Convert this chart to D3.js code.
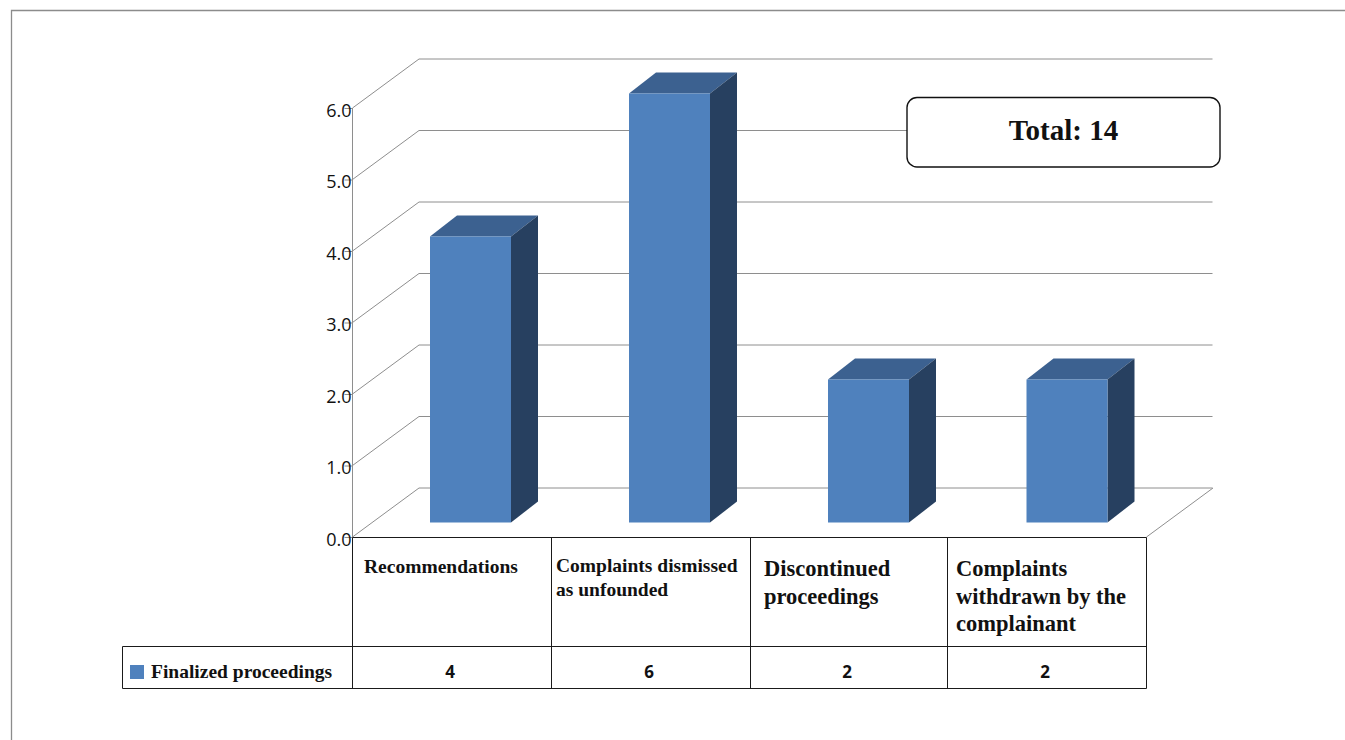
<!DOCTYPE html>
<html>
<head>
<meta charset="utf-8">
<style>
html,body{margin:0;padding:0;background:#fff;overflow:hidden}
svg{display:block}
</style>
<script src="https://cdnjs.cloudflare.com/ajax/libs/d3/7.8.5/d3.min.js"></script>
</head>
<body>
<svg id="chart" width="1345" height="740"></svg>
<script>
// Finalized proceedings by outcome
const categories = [
  ["Recommendations"],
  ["Complaints dismissed", "as unfounded"],
  ["Discontinued", "proceedings"],
  ["Complaints", "withdrawn by the", "complainant"]
];
const seriesName = "Finalized proceedings";
const values = [4, 6, 2, 2];
const yTicks = [0, 1, 2, 3, 4, 5, 6];
const totalLabel = "Total: 14";

const svg = d3.select("#chart");
const serif = "'Liberation Serif', serif";
const sans = "'Open Sans', sans-serif";

// Frame geometry of the oblique plot box
const plot = {left: 352.5, right: 1146.5, floor: 537, top: 108};
const wallDx = 66.5, wallDy = -49;   // shift from the front plane to the back wall
const barDx = 27, barDy = -21;       // visible depth of each column
const tableEdges = [352.5, 551.5, 750.5, 947.5, 1146.5];
const tableRows = [537.5, 646.5, 688.5];

const y = d3.scaleLinear().domain([0, 6]).range([plot.floor, plot.top]);

// Page frame
svg.append("path").attr("d", "M11.5,740V10.5H1345")
  .attr("fill", "none").attr("stroke", "#8c8c8c").attr("stroke-width", 1.3);

// Back wall gridlines and their diagonals on the side wall
const grid = svg.append("g").attr("fill", "none").attr("stroke", "#8e8e8e").attr("stroke-width", 1);
yTicks.forEach(t => {
  const yy = y(t);
  grid.append("path")
    .attr("d", `M${plot.left},${yy}L${plot.left + wallDx},${yy + wallDy}H${plot.right + wallDx - 0.5}`);
});
grid.append("path")
  .attr("d", `M${plot.right},${plot.floor}L${plot.right + wallDx},${plot.floor + wallDy}`);

// Value axis
const axis = svg.append("g").attr("transform", `translate(${plot.left},0)`)
  .call(d3.axisLeft(y).tickValues(yTicks).tickSize(8).tickSizeOuter(0).tickPadding(1));
axis.select(".domain").attr("stroke", "#8e8e8e").attr("d", `M0,${y(6)}V${y(0)}`);
axis.selectAll(".tick line").attr("stroke", "#8e8e8e");
axis.selectAll(".tick text")
  .attr("font-family", sans).attr("font-size", 18).attr("fill", "#111")
  .attr("dy", "0.62em").attr("dx", 0);
axis.selectAll(".tick text").attr("y", 0).attr("x", -1)
  .attr("transform", "translate(0,-3)");

// Columns: sit forward of the back wall on the floor plane
const band = d3.scaleBand().domain(d3.range(values.length)).range([plot.left, plot.right]);
const slotCentres = [470.5, 669.5, 868.5, 1067];
const barWidth = 81;
const barBase = 522.5;
const barHeight = v => y(0) - y(v);
const bars = svg.append("g").selectAll("g").data(values).join("g");
bars.append("path").attr("fill", "#3c6190").attr("d", (v, i) => {
  const l = slotCentres[i] - barWidth / 2, r = l + barWidth, t = barBase - barHeight(v);
  return `M${l},${t}L${l + barDx},${t + barDy}H${r + barDx}L${r},${t}Z`;
});
bars.append("path").attr("fill", "#274060").attr("d", (v, i) => {
  const r = slotCentres[i] + barWidth / 2, t = barBase - barHeight(v);
  return `M${r},${t}L${r + barDx},${t + barDy}V${barBase + barDy}L${r},${barBase}Z`;
});
bars.append("rect").attr("fill", "#4f81bd")
  .attr("x", (v, i) => slotCentres[i] - barWidth / 2)
  .attr("y", v => barBase - barHeight(v))
  .attr("width", barWidth)
  .attr("height", v => barHeight(v));

// Data table under the plot
const table = svg.append("g").attr("fill", "none").attr("stroke", "#1a1a1a").attr("stroke-width", 1);
table.append("path").attr("d", `M${tableEdges[0]},${tableRows[0]}H${tableEdges[4]}V${tableRows[2]}H122.5V${tableRows[1]}H${tableEdges[4]}`);
tableEdges.slice(0, 4).forEach(x =>
  table.append("path").attr("d", `M${x},${tableRows[0]}V${tableRows[2]}`));

// Category labels: the outer two columns use different insets and sizes
const labelStyle = [
  {x: 364, y: 573, size: 19.5, lead: 23},
  {x: 556, y: 572, size: 19.5, lead: 24},
  {x: 764, y: 576, size: 22.5, lead: 28},
  {x: 956, y: 576, size: 22.5, lead: 27.5}
];
categories.forEach((lines, i) => {
  const s = labelStyle[i];
  lines.forEach((line, k) => {
    svg.append("text").text(line)
      .attr("x", s.x).attr("y", s.y + k * s.lead)
      .attr("font-family", serif).attr("font-weight", "bold")
      .attr("font-size", s.size).attr("fill", "#111");
  });
});

// Value row
values.forEach((v, i) => {
  svg.append("text").text(v)
    .attr("x", (tableEdges[i] + tableEdges[i + 1]) / 2 - 2)
    .attr("y", 678).attr("text-anchor", "middle")
    .attr("font-family", sans).attr("font-weight", "bold")
    .attr("font-size", 17).attr("fill", "#111");
});

// Legend key inside the table
svg.append("rect").attr("x", 130).attr("y", 665).attr("width", 14).attr("height", 14).attr("fill", "#4f81bd");
svg.append("text").text(seriesName)
  .attr("x", 151).attr("y", 678)
  .attr("font-family", serif).attr("font-weight", "bold")
  .attr("font-size", 19.5).attr("fill", "#111");

// Total callout
svg.append("rect").attr("x", 907).attr("y", 97.5).attr("width", 313).attr("height", 69.5).attr("rx", 10)
  .attr("fill", "#fff").attr("stroke", "#111").attr("stroke-width", 1.4);
svg.append("text").text(totalLabel)
  .attr("x", 1063.5).attr("y", 140).attr("text-anchor", "middle")
  .attr("font-family", serif).attr("font-weight", "bold")
  .attr("font-size", 29).attr("fill", "#111");
</script>
</body>
</html>
